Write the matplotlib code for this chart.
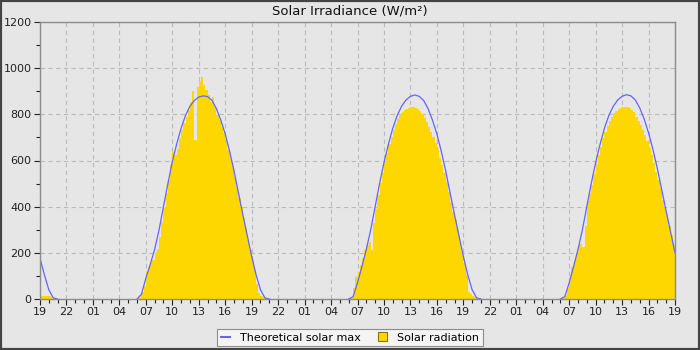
import numpy as np
import matplotlib
matplotlib.use('Agg')
import matplotlib.pyplot as plt
from matplotlib.lines import Line2D
from matplotlib.patches import Patch, Rectangle

plt.rcParams['font.family'] = 'DejaVu Sans'

# x axis is hours counted from 19:00 on the first evening
tick_labels = ['19', '22', '01', '04', '07', '10', '13', '16'] * 3 + ['19']

# measured solar radiation (W/m2), 15 minute steps
# first evening starts at 19:00, the other days start at 06:00
rad_day0 = [15, 15, 15, 15, 12, 10, 5]
rad_day1 = [5, 10, 30, 55,
            115, 140, 155, 170,
            205, 215, 270, 335,
            393, 458, 516, 580,
            635, 625, 650, 696,
            732, 761, 790, 820,
            855, 900, 690, 920,
            945, 960, 925, 905,
            884, 855, 875, 833,
            797, 775, 747, 718,
            682, 646, 610, 575,
            530, 487, 436, 400,
            350, 306, 256, 213,
            169, 126, 65, 28,
            12, 8, 5, 3]
rad_day2 = [5, 10, 46, 97,
            118, 147, 176, 212,
            234, 248, 212, 328,
            392, 450, 501, 544,
            588, 631, 670, 703,
            732, 756, 778, 797,
            809, 817, 823, 829,
            830, 830, 829, 823,
            814, 800, 785, 768,
            746, 725, 703, 674,
            645, 612, 580, 544,
            508, 465, 421, 378,
            342, 299, 248, 205,
            155, 104, 32, 20,
            14, 10, 5, 3]
rad_day3 = [5, 10, 17, 46,
            90, 140, 169, 198,
            234, 237, 227, 315,
            425, 455, 494, 540,
            580, 623, 660, 696,
            725, 751, 772, 790,
            805, 814, 822, 826,
            830, 832, 830, 826,
            819, 809, 790, 771,
            754, 732, 710, 684,
            652, 623, 588, 552,
            516, 480, 429, 393,
            364, 315, 278, 230]

# theoretical solar max (W/m2), 30 minute steps, same start times
tmax_day0 = [175, 105, 40, 5, 0]
tmax_day1 = [0, 20, 90, 150, 215, 300, 400, 500, 595, 672, 740, 795, 835,
             860, 875, 880, 877, 860, 825, 775, 715, 640, 555, 460, 365,
             275, 185, 105, 40, 5, 0]
tmax_day2 = [0, 10, 70, 140, 215, 300, 400, 500, 590, 670, 740, 795, 835,
             862, 878, 884, 878, 860, 825, 775, 715, 640, 555, 460, 365,
             275, 185, 105, 40, 5, 0]
tmax_day3 = [0, 10, 70, 140, 215, 300, 400, 500, 590, 670, 740, 795, 835,
             862, 878, 885, 880, 862, 828, 780, 720, 648, 565, 472, 380,
             290, 200]

GOLD = '#ffd700'
BLUE = '#6464ff'
BG = '#e6e6e6'


def start_hour(day, clock):
    return 24 * day + clock - 19


fig = plt.figure(figsize=(7, 3.5), dpi=100, facecolor=BG)
ax = fig.add_axes([40 / 700, 1 - 299 / 350, 635 / 700, 277 / 350])
ax.set_facecolor(BG)

rad = [(0, 19, rad_day0), (1, 6, rad_day1), (2, 6, rad_day2), (3, 6, rad_day3)]
for day, clock, vals in rad:
    edges = start_hour(day, clock) + 0.25 * np.arange(len(vals) + 1)
    ax.stairs(vals, edges, fill=True, color=GOLD, lw=0, zorder=2)

tmax = [(0, 19, tmax_day0), (1, 6, tmax_day1), (2, 6, tmax_day2), (3, 6, tmax_day3)]
for day, clock, vals in tmax:
    t = start_hour(day, clock) + 0.5 * np.arange(len(vals))
    ax.plot(t, vals, color=BLUE, lw=0.9, zorder=3)

ax.set_xlim(0, 72)
ax.set_ylim(0, 1200)
ax.set_xticks(np.arange(0, 73, 3))
ax.set_xticklabels(tick_labels)
ax.set_xticks(np.arange(0, 73, 1), minor=True)
ax.set_yticks(np.arange(0, 1201, 200))
ax.set_yticks(np.arange(0, 1201, 100), minor=True)
ax.tick_params(which='both', direction='out', colors='#222222', labelsize=8,
               width=0.8)
ax.tick_params(which='major', length=4, pad=2)
ax.tick_params(which='minor', length=3)
ax.grid(True, which='major', color='#bbbbbb', linestyle=(0, (4, 3)), lw=0.8)
ax.set_axisbelow(True)
for sp in ax.spines.values():
    sp.set_color('#8c8c8c')
    sp.set_linewidth(1)
    sp.set_zorder(4)

fig.text(0.5, 1 - 11 / 350, 'Solar Irradiance (W/m²)', ha='center',
         va='center', fontsize=9.5, color='#111111')

handles = [Line2D([], [], color=BLUE, lw=1.5),
           Patch(facecolor=GOLD, edgecolor='#8a7400', lw=0.8)]
leg = fig.legend(handles, ['Theoretical solar max', 'Solar radiation'],
                 loc='center', bbox_to_anchor=(0.5, 1 - 337.5 / 350), ncol=2,
                 fontsize=8, frameon=True, fancybox=False, framealpha=1,
                 facecolor='#f4f4f4', edgecolor='#8c8c8c',
                 handlelength=0.8, handleheight=0.8, handletextpad=0.9,
                 columnspacing=1.6, borderpad=0.35)
leg.get_frame().set_linewidth(0.8)

fig.patches.append(Rectangle((0, 0), 1, 1, transform=fig.transFigure,
                             fill=False, edgecolor='#444444', lw=3))

plt.savefig('out.png', dpi=100, facecolor=BG)
